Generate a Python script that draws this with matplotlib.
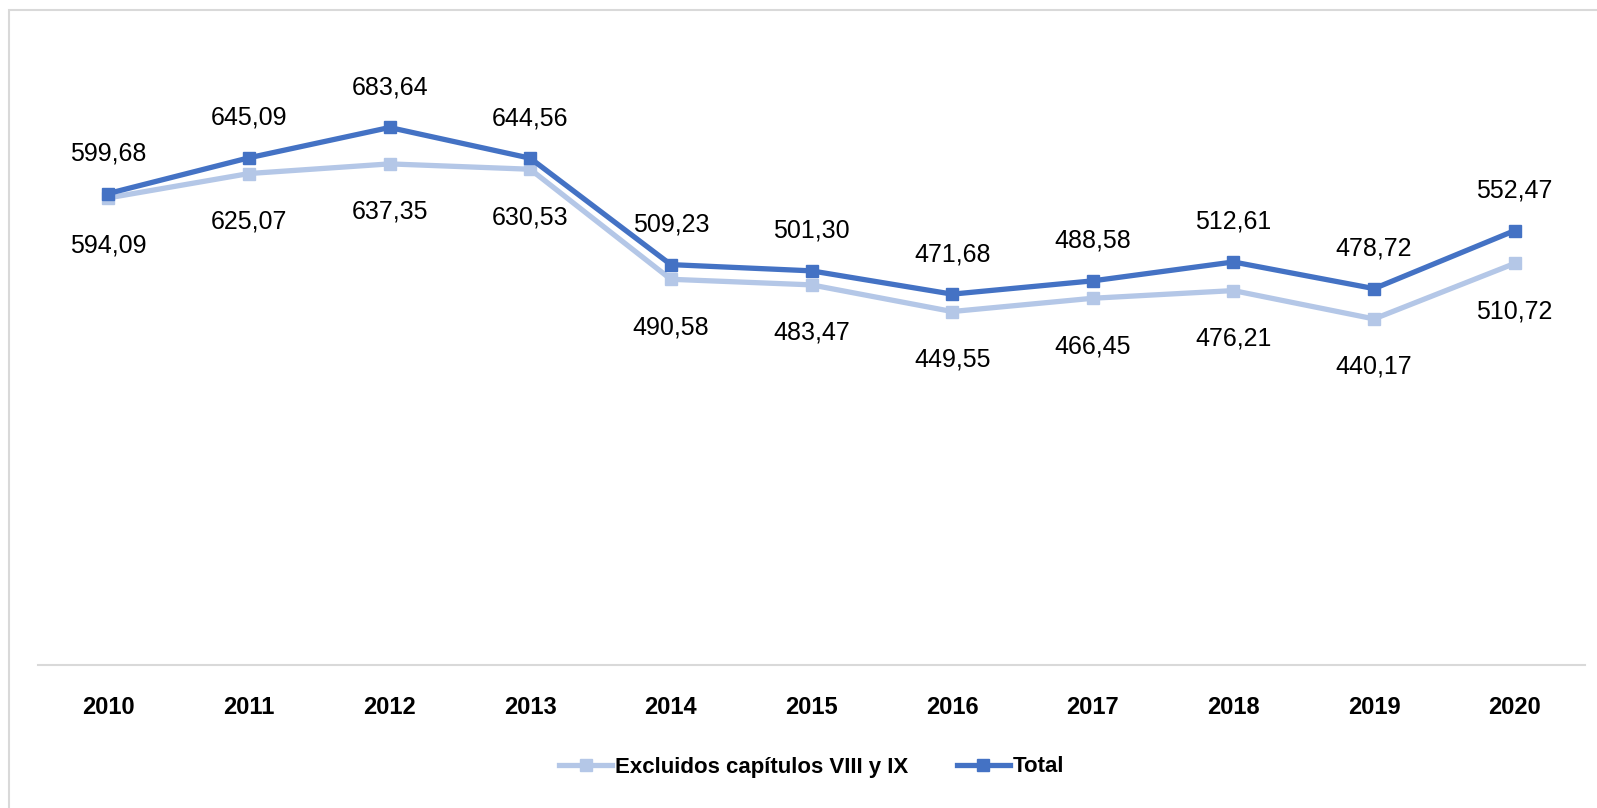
import matplotlib.pyplot as plt
from matplotlib.patches import Rectangle

years = ["2010", "2011", "2012", "2013", "2014", "2015", "2016", "2017", "2018", "2019", "2020"]
total = [599.68, 645.09, 683.64, 644.56, 509.23, 501.30, 471.68, 488.58, 512.61, 478.72, 552.47]
excluidos = [594.09, 625.07, 637.35, 630.53, 490.58, 483.47, 449.55, 466.45, 476.21, 440.17, 510.72]

plt.rcParams['font.family'] = ['Liberation Sans', 'DejaVu Sans']

W, H = 1597, 808
fig = plt.figure(figsize=(W / 100, H / 100), dpi=100)
ax = fig.add_axes([38 / W, 1 - 665 / H, (1585 - 38) / W, (665 - 36) / H])

# light border of the chart area (runs off right and bottom edges)
fig.patches.append(Rectangle((9 / W, -0.1), 1.2, 1 - 10 / H + 0.1, transform=fig.transFigure,
                             fill=False, edgecolor='#d9d9d9', linewidth=1.5))

light = '#b4c7e7'
dark = '#4472c4'
x = list(range(len(years)))

ax.plot(x, excluidos, color=light, lw=3.8, marker='s', ms=9, label='Excluidos capítulos VIII y IX')
ax.plot(x, total, color=dark, lw=3.8, marker='s', ms=9, label='Total')

def fmt(v):
    return f"{v:.2f}".replace('.', ',')

for i in x:
    ax.annotate(fmt(total[i]), (i, total[i]), xytext=(0, 40), textcoords='offset pixels',
                ha='center', va='center', fontsize=18)
    ax.annotate(fmt(excluidos[i]), (i, excluidos[i]), xytext=(0, -48), textcoords='offset pixels',
                ha='center', va='center', fontsize=18)

ax.set_xlim(-0.5, 10.5)
ax.set_ylim(0, 800)
ax.set_xticks(x)
ax.set_xticklabels(years, fontsize=17, fontweight='bold')
ax.set_yticks([])
ax.tick_params(axis='x', length=0, pad=22)
for s in ['top', 'right', 'left']:
    ax.spines[s].set_visible(False)
ax.spines['bottom'].set_color('#d9d9d9')
ax.spines['bottom'].set_linewidth(1.5)

ax_h = (665 - 36) / H
ax.legend(loc='center', bbox_to_anchor=(0.5, -(767 - 665) / H / ax_h),
          ncol=2, frameon=False, prop={'weight': 'bold', 'size': 16},
          handlelength=2.4, handletextpad=0.1, columnspacing=2.2)

fig.savefig('out.png', dpi=100)
